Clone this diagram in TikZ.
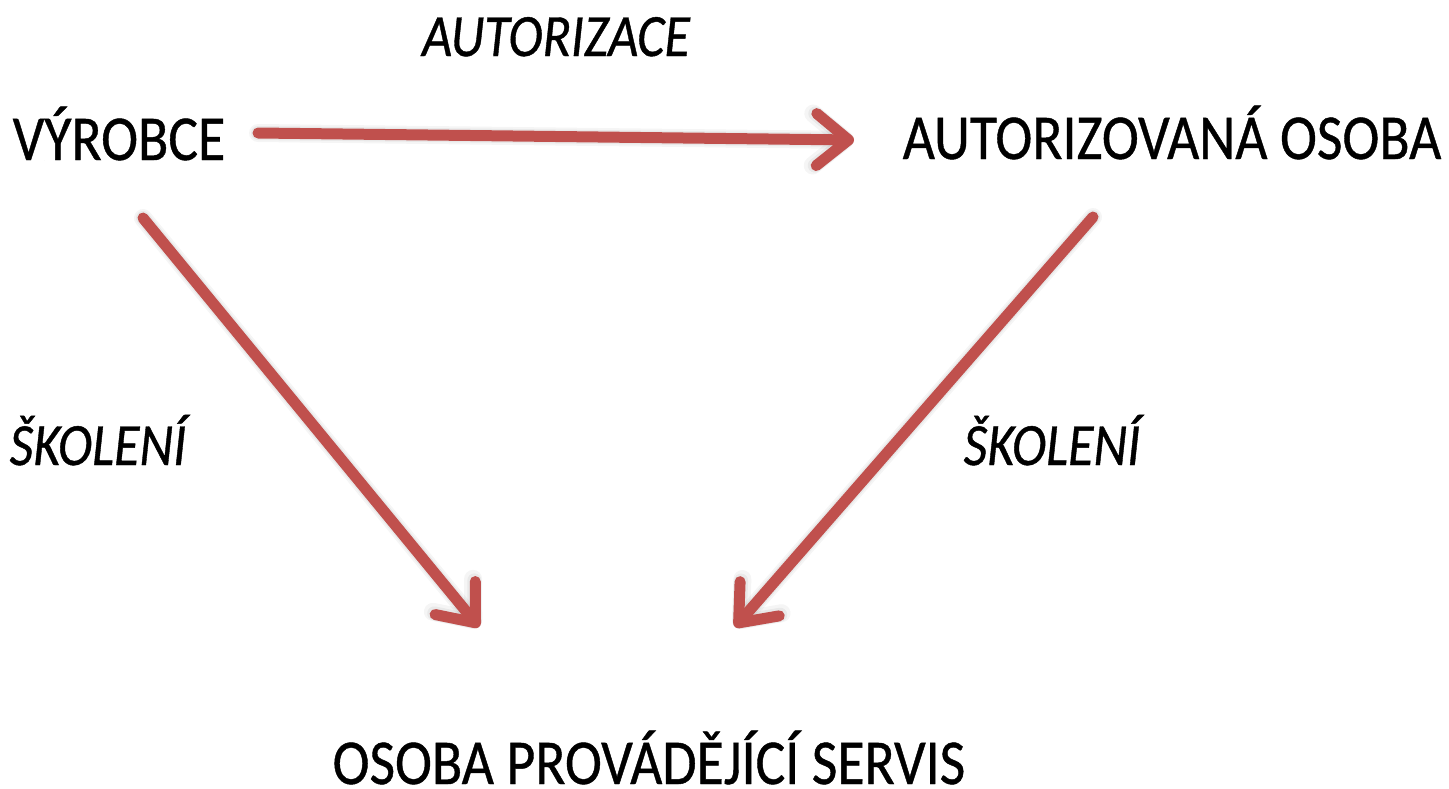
\documentclass[tikz,border=0pt]{standalone}
\usepackage{fontspec}
\setmainfont{Carlito}
\newfontfamily\lblfont{Carlito}[FakeBold=0.7]
\usetikzlibrary{arrows.meta}
\definecolor{arrowred}{RGB}{192,80,77}
\tikzset{
  lbl/.style={anchor=base, inner sep=0pt, font=\lblfont\fontsize{32}{38}\selectfont, xscale=0.87, transform shape},
  ilbl/.style={lbl, font=\lblfont\fontsize{30}{36}\selectfont\itshape},
  tip/.style={-{Straight Barb[length=16pt, width=26pt, line cap=round, line join=round]}},
  arr/.style={draw=arrowred, line width=5.5pt, line cap=round, line join=round, tip},
  shadowarr/.style={draw=black, line cap=round, line join=round, tip}
}
\begin{document}
\begin{tikzpicture}[x=0.5pt, y=-0.5pt]
\useasboundingbox (0,0) rectangle (1449,788);
\node[lbl] (vyr) at (119,160) {VÝROBCE};
\node[lbl] (ao) at (1172,159) {AUTORIZOVANÁ OSOBA};
\node[lbl] (ops) at (649,784) {OSOBA PROVÁDĚJÍCÍ SERVIS};
\node[ilbl] (aut) at (556,56) {AUTORIZACE};
\node[ilbl] (sk1) at (98,465) {ŠKOLENÍ};
\node[ilbl] (sk2) at (1052,465) {ŠKOLENÍ};
% anchor points of the connectors
\coordinate (a1s) at (258,133);
\coordinate (a1e) at (854,140);
\coordinate (a2s) at (143,218);
\coordinate (a2e) at (479,627);
\coordinate (a3s) at (1093,217);
\coordinate (a3e) at (735,627);
% soft shadows
\foreach \w/\o in {9pt/0.04, 7pt/0.05, 5pt/0.06}{
\begin{scope}[shift={(4,9)}]
\draw[shadowarr, line width=\w, opacity=\o] (a1s) -- (a1e);
\draw[shadowarr, line width=\w, opacity=\o] (a2s) -- (a2e);
\draw[shadowarr, line width=\w, opacity=\o] (a3s) -- (a3e);
\end{scope}}
\draw[arr] (a1s) -- (a1e);
\draw[arr] (a2s) -- (a2e);
\draw[arr] (a3s) -- (a3e);
\end{tikzpicture}
\end{document}
